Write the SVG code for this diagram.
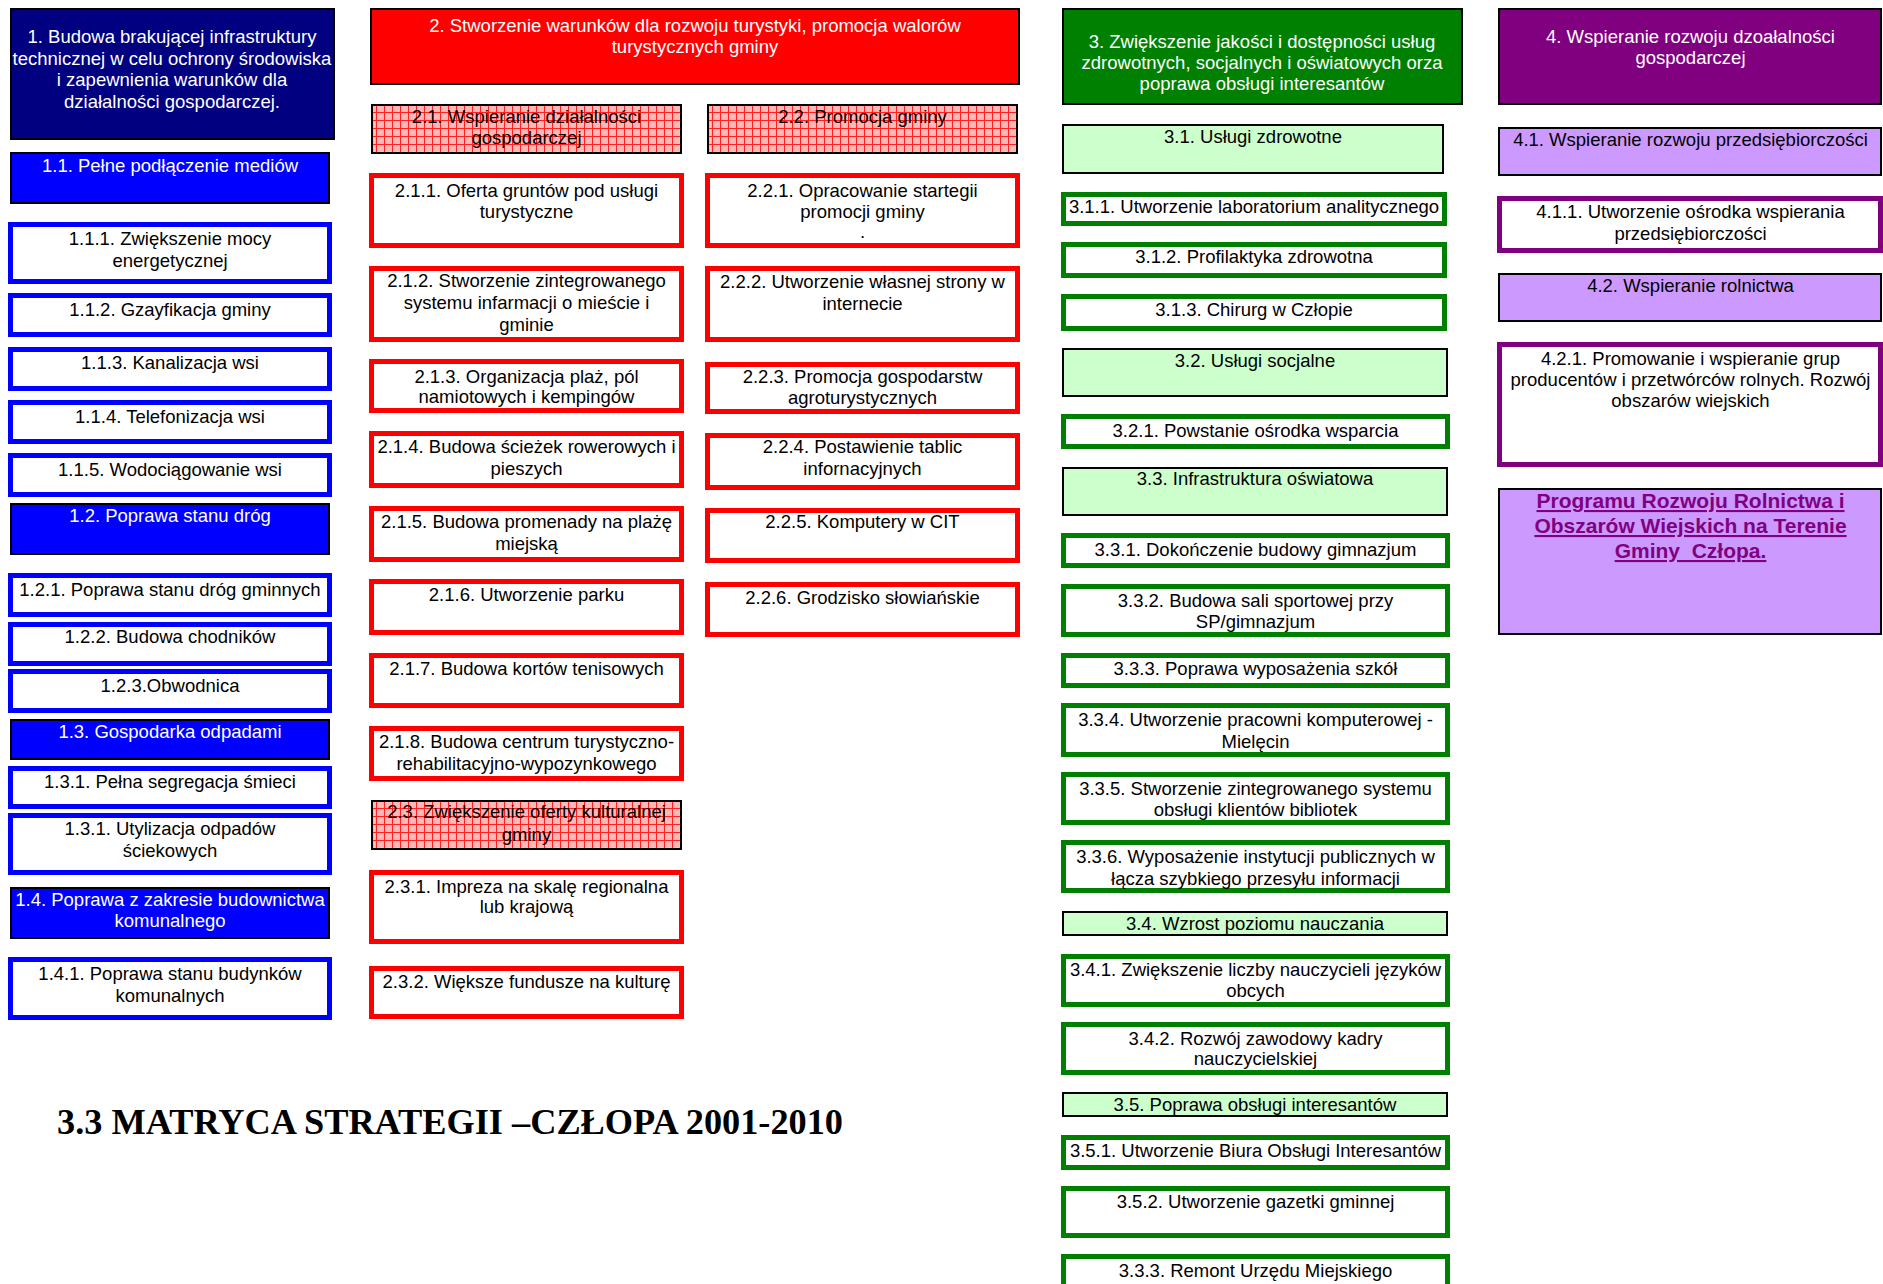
<svg xmlns="http://www.w3.org/2000/svg" width="1883" height="1284" viewBox="0 0 1883 1284">
<defs>
<pattern id="grid" width="8" height="8" patternUnits="userSpaceOnUse">
<rect width="8" height="8" fill="#FBB8B8"/>
<path d="M0 0.5H8M0.5 0V8" stroke="#FF2020" stroke-width="1"/>
</pattern>
<style>
text{font-family:"Liberation Sans",Arial,sans-serif;font-size:18.5px;text-anchor:middle;fill:#000}
.w{fill:#fff}
.k1{fill:#000080;stroke:#000;stroke-width:2}
.k2{fill:#0000FF;stroke:#000;stroke-width:2}
.o1{fill:#fff;stroke:#0000FF;stroke-width:5}
.r0{fill:#FF0000;stroke:#000;stroke-width:2}
.rp{fill:url(#grid);stroke:#000;stroke-width:2}
.o2{fill:#fff;stroke:#FF0000;stroke-width:5}
.g0{fill:#008000;stroke:#000;stroke-width:2}
.g1{fill:#CCFFCC;stroke:#000;stroke-width:2}
.o3{fill:#fff;stroke:#008000;stroke-width:5}
.p0{fill:#800080;stroke:#000;stroke-width:2}
.p1{fill:#CC99FF;stroke:#000;stroke-width:2}
.o4{fill:#fff;stroke:#800080;stroke-width:5}
.prog{font-weight:bold;font-size:21px;fill:#800080;text-decoration:underline}
.title{font-family:"Liberation Serif","Times New Roman",serif;font-weight:bold;font-size:35.5px;text-anchor:start}
</style>
</defs>
<rect width="1883" height="1284" fill="#fff"/>
<g id="connectors"/>

<!-- Column 1 -->
<g id="n1"><rect class="k1" x="11" y="9" width="323" height="130"/>
<text class="w" x="172" y="43">1. Budowa brakującej infrastruktury</text>
<text class="w" x="172" y="64.5">technicznej w celu ochrony środowiska</text>
<text class="w" x="172" y="86">i zapewnienia warunków dla</text>
<text class="w" x="172" y="107.5">działalności gospodarczej.</text></g>
<g id="n1_1"><rect class="k2" x="11" y="153" width="318" height="50"/><text class="w" x="170" y="172">1.1. Pełne podłączenie mediów</text></g>
<g id="n1_1_1"><rect class="o1" x="10.5" y="224.5" width="319" height="57"/><text x="170" y="245">1.1.1. Zwiększenie mocy</text><text x="170" y="267">energetycznej</text></g>
<g id="n1_1_2"><rect class="o1" x="10.5" y="295.5" width="319" height="39"/><text x="170" y="316">1.1.2. Gzayfikacja gminy</text></g>
<g id="n1_1_3"><rect class="o1" x="10.5" y="349.5" width="319" height="39"/><text x="170" y="369">1.1.3. Kanalizacja wsi</text></g>
<g id="n1_1_4"><rect class="o1" x="10.5" y="402.5" width="319" height="39"/><text x="170" y="423">1.1.4. Telefonizacja wsi</text></g>
<g id="n1_1_5"><rect class="o1" x="10.5" y="455.5" width="319" height="39"/><text x="170" y="476">1.1.5. Wodociągowanie wsi</text></g>
<g id="n1_2"><rect class="k2" x="11" y="504" width="318" height="50"/><text class="w" x="170" y="522">1.2. Poprawa stanu dróg</text></g>
<g id="n1_2_1"><rect class="o1" x="10.5" y="575.5" width="319" height="39"/><text x="170" y="596">1.2.1. Poprawa stanu dróg gminnych</text></g>
<g id="n1_2_2"><rect class="o1" x="10.5" y="624.5" width="319" height="39"/><text x="170" y="643">1.2.2. Budowa chodników</text></g>
<g id="n1_2_3"><rect class="o1" x="10.5" y="671.5" width="319" height="39"/><text x="170" y="692">1.2.3.Obwodnica</text></g>
<g id="n1_3"><rect class="k2" x="11" y="720" width="318" height="39"/><text class="w" x="170" y="738">1.3. Gospodarka odpadami</text></g>
<g id="n1_3_1"><rect class="o1" x="10.5" y="768.5" width="319" height="38"/><text x="170" y="788">1.3.1. Pełna segregacja śmieci</text></g>
<g id="n1_3_1b"><rect class="o1" x="10.5" y="815.5" width="319" height="57"/><text x="170" y="835">1.3.1. Utylizacja odpadów</text><text x="170" y="857">ściekowych</text></g>
<g id="n1_4"><rect class="k2" x="11" y="888" width="318" height="50"/><text class="w" x="170" y="906">1.4. Poprawa z zakresie budownictwa</text><text class="w" x="170" y="927">komunalnego</text></g>
<g id="n1_4_1"><rect class="o1" x="10.5" y="959.5" width="319" height="58"/><text x="170" y="980">1.4.1. Poprawa stanu budynków</text><text x="170" y="1002">komunalnych</text></g>

<!-- Column 2 -->
<g id="n2"><rect class="r0" x="371" y="9" width="648" height="75"/>
<text class="w" x="695" y="32">2. Stworzenie warunków dla rozwoju turystyki, promocja walorów</text>
<text class="w" x="695" y="53">turystycznych gminy</text></g>
<g id="n2_1"><rect class="rp" x="372" y="105" width="309" height="48"/><text x="526.5" y="123">2.1. Wspieranie działalności</text><text x="526.5" y="144">gospodarczej</text></g>
<g id="n2_2"><rect class="rp" x="708" y="105" width="309" height="48"/><text x="862.5" y="123">2.2. Promocja gminy</text></g>
<g id="n2_1_1"><rect class="o2" x="371.5" y="175.5" width="310" height="70"/><text x="526.5" y="197">2.1.1. Oferta gruntów pod usługi</text><text x="526.5" y="218">turystyczne</text></g>
<g id="n2_2_1"><rect class="o2" x="707.5" y="175.5" width="310" height="70"/><text x="862.5" y="197">2.2.1. Opracowanie startegii</text><text x="862.5" y="218">promocji gminy</text><text x="862.5" y="238">.</text></g>
<g id="n2_1_2"><rect class="o2" x="371.5" y="268.5" width="310" height="71"/><text x="526.5" y="287">2.1.2. Stworzenie zintegrowanego</text><text x="526.5" y="309">systemu infarmacji o mieście i</text><text x="526.5" y="331">gminie</text></g>
<g id="n2_2_2"><rect class="o2" x="707.5" y="268.5" width="310" height="71"/><text x="862.5" y="288">2.2.2. Utworzenie własnej strony w</text><text x="862.5" y="310">internecie</text></g>
<g id="n2_1_3"><rect class="o2" x="371.5" y="361.5" width="310" height="49"/><text x="526.5" y="383">2.1.3. Organizacja plaż, pól</text><text x="526.5" y="403">namiotowych i kempingów</text></g>
<g id="n2_2_3"><rect class="o2" x="707.5" y="364.5" width="310" height="47"/><text x="862.5" y="383">2.2.3. Promocja gospodarstw</text><text x="862.5" y="404">agroturystycznych</text></g>
<g id="n2_1_4"><rect class="o2" x="371.5" y="433.5" width="310" height="52"/><text x="526.5" y="453">2.1.4. Budowa ścieżek rowerowych i</text><text x="526.5" y="475">pieszych</text></g>
<g id="n2_2_4"><rect class="o2" x="707.5" y="435.5" width="310" height="52"/><text x="862.5" y="453">2.2.4. Postawienie tablic</text><text x="862.5" y="475">infornacyjnych</text></g>
<g id="n2_1_5"><rect class="o2" x="371.5" y="508.5" width="310" height="51"/><text x="526.5" y="528">2.1.5. Budowa promenady na plażę</text><text x="526.5" y="550">miejską</text></g>
<g id="n2_2_5"><rect class="o2" x="707.5" y="510.5" width="310" height="50"/><text x="862.5" y="528">2.2.5. Komputery w CIT</text></g>
<g id="n2_1_6"><rect class="o2" x="371.5" y="581.5" width="310" height="51"/><text x="526.5" y="601">2.1.6. Utworzenie parku</text></g>
<g id="n2_2_6"><rect class="o2" x="707.5" y="584.5" width="310" height="50"/><text x="862.5" y="604">2.2.6. Grodzisko słowiańskie</text></g>
<g id="n2_1_7"><rect class="o2" x="371.5" y="655.5" width="310" height="50"/><text x="526.5" y="675">2.1.7. Budowa kortów tenisowych</text></g>
<g id="n2_1_8"><rect class="o2" x="371.5" y="728.5" width="310" height="50"/><text x="526.5" y="748">2.1.8. Budowa centrum turystyczno-</text><text x="526.5" y="770">rehabilitacyjno-wypozynkowego</text></g>
<g id="n2_3"><rect class="rp" x="372" y="801" width="309" height="48"/><text x="526.5" y="818">2.3. Zwiększenie oferty kulturalnej</text><text x="526.5" y="841">gminy</text></g>
<g id="n2_3_1"><rect class="o2" x="371.5" y="872.5" width="310" height="69"/><text x="526.5" y="893">2.3.1. Impreza na skalę regionalna</text><text x="526.5" y="913">lub krajową</text></g>
<g id="n2_3_2"><rect class="o2" x="371.5" y="968.5" width="310" height="48"/><text x="526.5" y="988">2.3.2. Większe fundusze na kulturę</text></g>

<!-- Column 3 -->
<g id="n3"><rect class="g0" x="1063" y="9" width="399" height="95"/>
<text class="w" x="1262" y="48">3. Zwiększenie jakości i dostępności usług</text>
<text class="w" x="1262" y="69">zdrowotnych, socjalnych i oświatowych orza</text>
<text class="w" x="1262" y="90">poprawa obsługi interesantów</text></g>
<g id="n3_1"><rect class="g1" x="1063" y="125" width="380" height="48"/><text x="1253" y="143">3.1. Usługi zdrowotne</text></g>
<g id="n3_1_1"><rect class="o3" x="1063.5" y="194.5" width="381" height="29"/><text x="1254" y="213">3.1.1. Utworzenie laboratorium analitycznego</text></g>
<g id="n3_1_2"><rect class="o3" x="1063.5" y="244.5" width="381" height="31"/><text x="1254" y="263">3.1.2. Profilaktyka zdrowotna</text></g>
<g id="n3_1_3"><rect class="o3" x="1063.5" y="296.5" width="381" height="32"/><text x="1254" y="316">3.1.3. Chirurg w Człopie</text></g>
<g id="n3_2"><rect class="g1" x="1063" y="349" width="384" height="47"/><text x="1255" y="367">3.2. Usługi socjalne</text></g>
<g id="n3_2_1"><rect class="o3" x="1063.5" y="416.5" width="384" height="30"/><text x="1255.5" y="437">3.2.1. Powstanie ośrodka wsparcia</text></g>
<g id="n3_3"><rect class="g1" x="1063" y="468" width="384" height="47"/><text x="1255" y="485">3.3. Infrastruktura oświatowa</text></g>
<g id="n3_3_1"><rect class="o3" x="1063.5" y="535.5" width="384" height="30"/><text x="1255.5" y="556">3.3.1. Dokończenie budowy gimnazjum</text></g>
<g id="n3_3_2"><rect class="o3" x="1063.5" y="586.5" width="384" height="48"/><text x="1255.5" y="607">3.3.2. Budowa sali sportowej przy</text><text x="1255.5" y="628">SP/gimnazjum</text></g>
<g id="n3_3_3"><rect class="o3" x="1063.5" y="655.5" width="384" height="30"/><text x="1255.5" y="675">3.3.3. Poprawa wyposażenia szkół</text></g>
<g id="n3_3_4"><rect class="o3" x="1063.5" y="705.5" width="384" height="49"/><text x="1255.5" y="726">3.3.4. Utworzenie pracowni komputerowej -</text><text x="1255.5" y="748">Mielęcin</text></g>
<g id="n3_3_5"><rect class="o3" x="1063.5" y="774.5" width="384" height="48"/><text x="1255.5" y="795">3.3.5. Stworzenie zintegrowanego systemu</text><text x="1255.5" y="816">obsługi klientów bibliotek</text></g>
<g id="n3_3_6"><rect class="o3" x="1063.5" y="842.5" width="384" height="48"/><text x="1255.5" y="863">3.3.6. Wyposażenie instytucji publicznych w</text><text x="1255.5" y="885">łącza szybkiego przesyłu informacji</text></g>
<g id="n3_4"><rect class="g1" x="1063" y="912" width="384" height="23"/><text x="1255" y="930">3.4. Wzrost poziomu nauczania</text></g>
<g id="n3_4_1"><rect class="o3" x="1063.5" y="956.5" width="384" height="48"/><text x="1255.5" y="976">3.4.1. Zwiększenie liczby nauczycieli języków</text><text x="1255.5" y="997">obcych</text></g>
<g id="n3_4_2"><rect class="o3" x="1063.5" y="1024.5" width="384" height="48"/><text x="1255.5" y="1045">3.4.2. Rozwój zawodowy kadry</text><text x="1255.5" y="1065">nauczycielskiej</text></g>
<g id="n3_5"><rect class="g1" x="1063" y="1093" width="384" height="23"/><text x="1255" y="1111">3.5. Poprawa obsługi interesantów</text></g>
<g id="n3_5_1"><rect class="o3" x="1063.5" y="1137.5" width="384" height="30"/><text x="1255.5" y="1157">3.5.1. Utworzenie Biura Obsługi Interesantów</text></g>
<g id="n3_5_2"><rect class="o3" x="1063.5" y="1188.5" width="384" height="47"/><text x="1255.5" y="1208">3.5.2. Utworzenie gazetki gminnej</text></g>
<g id="n3_3_3b"><rect class="o3" x="1063.5" y="1256.5" width="384" height="45"/><text x="1255.5" y="1277">3.3.3. Remont Urzędu Miejskiego</text></g>

<!-- Column 4 -->
<g id="n4"><rect class="p0" x="1499" y="9" width="382" height="95"/>
<text class="w" x="1690.5" y="43">4. Wspieranie rozwoju dzoałalności</text>
<text class="w" x="1690.5" y="64">gospodarczej</text></g>
<g id="n4_1"><rect class="p1" x="1499" y="128" width="382" height="47"/><text x="1690.5" y="146">4.1. Wspieranie rozwoju przedsiębiorczości</text></g>
<g id="n4_1_1"><rect class="o4" x="1499.5" y="198.5" width="381" height="52"/><text x="1690.5" y="218">4.1.1. Utworzenie ośrodka wspierania</text><text x="1690.5" y="240">przedsiębiorczości</text></g>
<g id="n4_2"><rect class="p1" x="1499" y="274" width="382" height="47"/><text x="1690.5" y="292">4.2. Wspieranie rolnictwa</text></g>
<g id="n4_2_1"><rect class="o4" x="1499.5" y="344.5" width="381" height="120"/><text x="1690.5" y="365">4.2.1. Promowanie i wspieranie grup</text><text x="1690.5" y="386">producentów i przetwórców rolnych. Rozwój</text><text x="1690.5" y="407">obszarów wiejskich</text></g>
<g id="n4_prog"><rect class="p1" x="1499" y="489" width="382" height="145"/>
<text class="prog" x="1690.5" y="508">Programu Rozwoju Rolnictwa i</text>
<text class="prog" x="1690.5" y="533">Obszarów Wiejskich na Terenie</text>
<text class="prog" x="1690.5" y="558" xml:space="preserve">Gminy  Człopa.</text></g>

<!-- Title -->
<text class="title" x="57" y="1134" textLength="786" lengthAdjust="spacingAndGlyphs">3.3 MATRYCA STRATEGII –CZŁOPA 2001-2010</text>
</svg>
